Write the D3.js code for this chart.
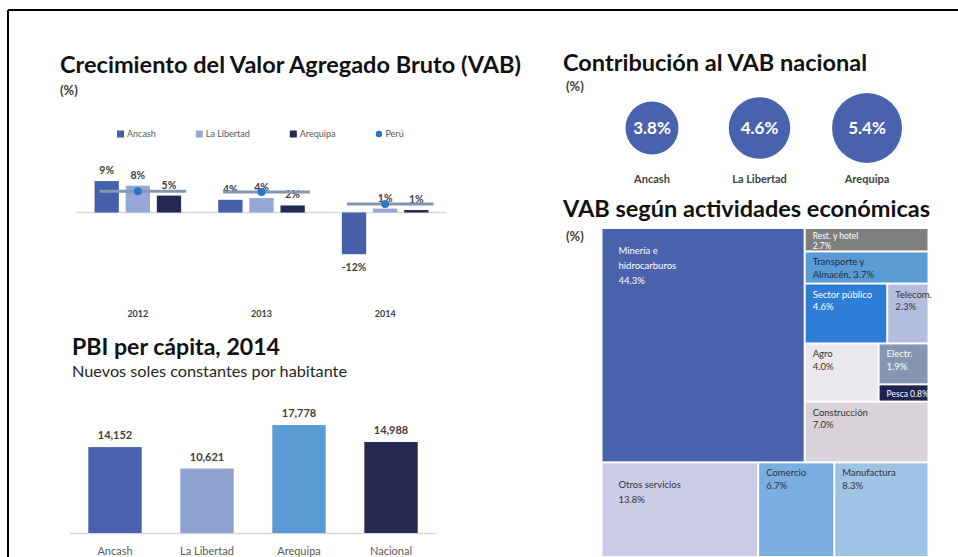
<!DOCTYPE html>
<html><head><meta charset="utf-8">
<script src="https://cdn.jsdelivr.net/npm/d3@7"></script>
<style>
html,body{margin:0;padding:0;background:#fff;}
svg{display:block;font-family:Lato,"Open Sans",sans-serif;}
</style></head>
<body>
<svg id="chart" width="958" height="557"></svg>
<script>
// ---------- DATA ----------
const years = ["2012", "2013", "2014"];
const growthSeries = ["Ancash", "La Libertad", "Arequipa"];
const ancashGrowth = [8.9, 3.6, -11.8];
const libertadGrowth = [7.6, 4.1, 1.1];
const arequipaGrowth = [4.8, 2.0, 0.7];
const peruGrowth = [6.0, 5.8, 2.4];

const contribRegions = ["Ancash", "La Libertad", "Arequipa"];
const contribValues = [3.8, 4.6, 5.4];

const pbiCategories = ["Ancash", "La Libertad", "Arequipa", "Nacional"];
const pbiValues = [14152, 10621, 17778, 14988];

const sectorNames = ["Minería e\nhidrocarburos", "Otros servicios", "Manufactura", "Construcción",
  "Comercio", "Sector público", "Agro", "Transporte y\nAlmacén,", "Rest. y hotel",
  "Telecom.", "Electr.", "Pesca"];
const sectorValues = [44.3, 13.8, 8.3, 7.0, 6.7, 4.6, 4.0, 3.7, 2.7, 2.3, 1.9, 0.8];
// nesting of the treemap (indices into the arrays above)
const sectorTree = {tile: "slice", children: [
  {tile: "dice", children: [0, {tile: "slice", children: [8, 7,
    {tile: "dice", children: [5, 9]},
    {tile: "dice", children: [6, {tile: "slice", children: [10, 11]}]},
    3]}]},
  {tile: "dice", children: [1, 4, 2]}
]};

// ---------- STYLES ----------
const growthColors = ["#4760ab", "#97a8d8", "#252850"];
const peruLineColor = "#8497b0", peruDotColor = "#2e75c6";
const pbiColors = ["#4a62ad", "#8fa1d0", "#5b9bd5", "#252850"];
const sectorColors = ["#4a62ac", "#cbcce8", "#9fc3e4", "#d9d2d9", "#7aade2", "#2e7dd7",
  "#ebe8ee", "#5b9bd5", "#7f7f7f", "#b4bde0", "#8596b1", "#1f2350"];
const sectorTextColors = ["#fff", "#333", "#333", "#333", "#333", "#fff",
  "#333", "#1f2a44", "#fff", "#333", "#fff", "#fff"];

const svg = d3.select("#chart");

// frame
svg.append("line").attr("x1", 8).attr("x2", 958).attr("y1", 10).attr("y2", 10).attr("stroke", "#000").attr("stroke-width", 2);
svg.append("line").attr("x1", 8).attr("x2", 8).attr("y1", 10).attr("y2", 557).attr("stroke", "#000").attr("stroke-width", 2);

function title(txt, x, y, len, size, weight, color) {
  svg.append("text").attr("x", x).attr("y", y).text(txt)
    .attr("font-size", size).attr("font-weight", weight || 700).attr("fill", color || "#111")
    .attr("textLength", len).attr("lengthAdjust", "spacingAndGlyphs");
}
function pct(x, y) {
  svg.append("text").attr("x", x).attr("y", y).text("(%)").attr("font-size", 13)
    .attr("font-weight", 700).attr("fill", "#404040");
}

// ---------- Chart 1: growth ----------
title("Crecimiento del Valor Agregado Bruto (VAB)", 60, 73, 461, 23);
pct(60, 95);

const x0 = d3.scaleBand().domain(years).range([76, 447]).paddingInner(0.3).paddingOuter(0.15);
const x1 = d3.scaleBand().domain(growthSeries).range([0, x0.bandwidth()]).paddingInner(0.22);
const yG = d3.scaleLinear().domain([-15, 10]).range([265.5, 177.2]);
const growthData = [ancashGrowth, libertadGrowth, arequipaGrowth];

// legend
const leg = svg.append("g");
let lx = 117;
const legItems = growthSeries.map((s, i) => ({name: s, color: growthColors[i], type: "sq"}))
  .concat([{name: "Perú", color: peruDotColor, type: "dot"}]);
legItems.forEach(it => {
  if (it.type === "sq") leg.append("rect").attr("x", lx).attr("y", 130.5).attr("width", 7).attr("height", 7).attr("fill", it.color);
  else leg.append("circle").attr("cx", lx + 3.5).attr("cy", 134).attr("r", 3.2).attr("fill", it.color);
  const t = leg.append("text").attr("x", lx + 10).attr("y", 137.2).text(it.name).attr("font-size", 9).attr("fill", "#595959");
  lx += 10 + t.node().getComputedTextLength() + 40;
});

// zero line
svg.append("line").attr("x1", 76).attr("x2", 447).attr("y1", yG(0)).attr("y2", yG(0)).attr("stroke", "#d9d9d9").attr("stroke-width", 1.5);

years.forEach((yr, yi) => {
  const g = svg.append("g").attr("transform", `translate(${x0(yr)},0)`);
  growthSeries.forEach((s, si) => {
    const v = growthData[si][yi];
    g.append("rect").attr("x", x1(s)).attr("width", x1.bandwidth())
      .attr("y", Math.min(yG(v), yG(0))).attr("height", Math.abs(yG(v) - yG(0)))
      .attr("fill", growthColors[si]);
    g.append("text").attr("x", x1(s) + x1.bandwidth() / 2)
      .attr("y", v >= 0 ? yG(v) - 7 : yG(v) + 17)
      .attr("text-anchor", "middle").attr("font-size", 10.5).attr("font-weight", 700).attr("fill", "#404040")
      .text(Math.round(v) + "%");
  });
  // Perú marker line + dot
  const py = yG(peruGrowth[yi]);
  g.append("line").attr("x1", 5).attr("x2", x0.bandwidth() + 5).attr("y1", py).attr("y2", py)
    .attr("stroke", peruLineColor).attr("stroke-width", 3);
  g.append("circle").attr("cx", x0.bandwidth() / 2).attr("cy", py).attr("r", 4).attr("fill", peruDotColor);
  svg.append("text").attr("x", x0(yr) + x0.bandwidth() / 2).attr("y", 316.5).attr("text-anchor", "middle")
    .attr("font-size", 9).attr("font-weight", 700).attr("fill", "#404040").text(yr);
});

// ---------- Chart 2: PBI per cápita ----------
title("PBI per cápita, 2014", 72, 355, 208, 23);
title("Nuevos soles constantes por habitante", 72, 377, 275, 15, 400, "#262626");

const xP = d3.scaleBand().domain(pbiCategories).range([69, 437]).paddingInner(0.42).paddingOuter(0.21);
const yP = d3.scaleLinear().domain([0, 20000]).range([533, 411.6]);
svg.append("line").attr("x1", 70).attr("x2", 437).attr("y1", 533.5).attr("y2", 533.5).attr("stroke", "#d9d9d9").attr("stroke-width", 1.5);
pbiCategories.forEach((c, i) => {
  svg.append("rect").attr("x", xP(c)).attr("width", xP.bandwidth()).attr("y", yP(pbiValues[i]))
    .attr("height", yP(0) - yP(pbiValues[i])).attr("fill", pbiColors[i]);
  svg.append("text").attr("x", xP(c) + xP.bandwidth() / 2).attr("y", yP(pbiValues[i]) - 8)
    .attr("text-anchor", "middle").attr("font-size", 11).attr("font-weight", 700).attr("fill", "#404040")
    .text(d3.format(",")(pbiValues[i]));
  svg.append("text").attr("x", xP(c) + xP.bandwidth() / 2).attr("y", 555)
    .attr("text-anchor", "middle").attr("font-size", 11).attr("fill", "#595959").text(c);
});

// ---------- Chart 3: contribution circles ----------
title("Contribución al VAB nacional", 563, 71, 304, 23);
pct(566, 91);
const xC = d3.scalePoint().domain(contribRegions).range([652, 867]);
const rC = d3.scaleLinear().domain([3.8, 5.4]).range([26.5, 35]);
contribRegions.forEach((r, i) => {
  svg.append("circle").attr("cx", xC(r)).attr("cy", 128).attr("r", rC(contribValues[i])).attr("fill", "#4a62ad");
  svg.append("text").attr("x", xC(r)).attr("y", 134).attr("text-anchor", "middle")
    .attr("font-size", 17).attr("font-weight", 700).attr("fill", "#fff").text(d3.format(".1f")(contribValues[i]) + "%");
  svg.append("text").attr("x", xC(r)).attr("y", 183).attr("text-anchor", "middle")
    .attr("font-size", 11).attr("font-weight", 700).attr("fill", "#404040").text(r);
});

// ---------- Chart 4: treemap ----------
title("VAB según actividades económicas", 563, 217, 367, 23);
pct(566, 241);

function build(n) { return typeof n === "number" ? {idx: n} : {tile: n.tile, children: n.children.map(build)}; }
const root = d3.hierarchy(build(sectorTree), d => d.children)
  .sum(d => d.children ? 0 : sectorValues[d.idx]);
const tile = (node, a, b, c, d) => (node.data.tile === "dice" ? d3.treemapDice : d3.treemapSlice)(node, a, b, c, d);
d3.treemap().size([325, 327]).paddingInner(2).tile(tile)(root);

const tm = svg.append("g").attr("transform", "translate(602.5,229)");
root.leaves().forEach(l => {
  const i = l.data.idx;
  const w = l.x1 - l.x0, h = l.y1 - l.y0;
  tm.append("rect").attr("x", l.x0).attr("y", l.y0).attr("width", w).attr("height", h).attr("fill", sectorColors[i]);
  const valTxt = d3.format(".1f")(sectorValues[i]) + "%";
  let lines = sectorNames[i].split("\n");
  if (lines[lines.length - 1].endsWith(",")) lines[lines.length - 1] += " " + valTxt;
  else lines.push(valTxt);
  const big = w > 150;
  const tiny = h < 20;
  const compact = !tiny && h < 28;
  if (tiny) lines = [lines.join(" ")];
  const fs = (tiny || compact) ? 8.5 : 9.5;
  const top = big ? 25 : (tiny ? 12 : (compact ? 10 : 13));
  const lh = big ? 15 : (compact ? 10 : 12.5);
  const t = tm.append("text").attr("font-size", fs).attr("fill", sectorTextColors[i]);
  lines.forEach((ln, k) => {
    t.append("tspan").attr("x", l.x0 + (big ? 16 : 7)).attr("y", l.y0 + top + k * lh).text(ln);
  });
});
</script>
</body></html>
